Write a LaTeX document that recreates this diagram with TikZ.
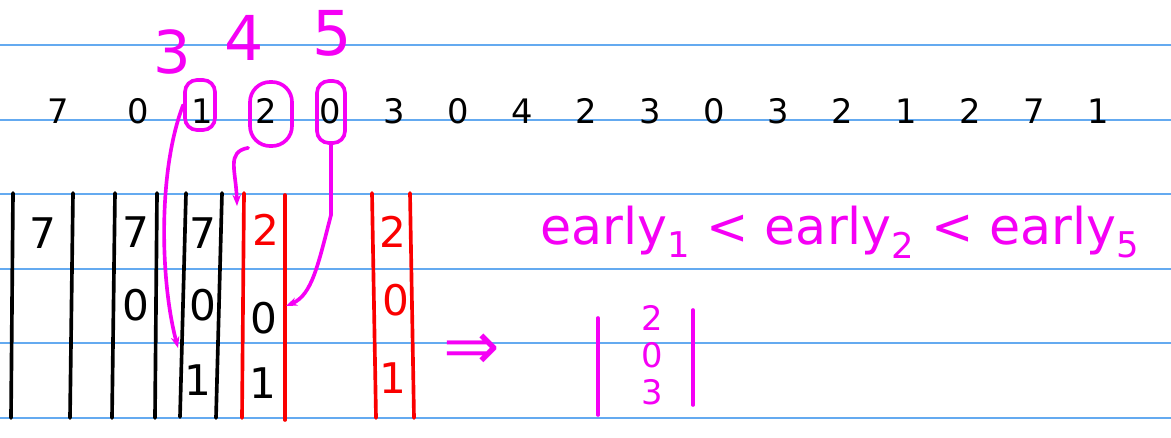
\documentclass[tikz,border=0pt]{standalone}
\usepackage{fontspec}
\setmainfont{DejaVu Sans}
\usetikzlibrary{arrows.meta,positioning,calc}
\definecolor{ruled}{RGB}{100,170,240}
\definecolor{pen}{RGB}{245,0,245}
\definecolor{redpen}{RGB}{250,0,0}
\tikzset{
  rule/.style={ruled,line width=1.2pt},
  frameline/.style={line width=2.6pt,line cap=round},
  seqnum/.style={font=\fontsize{24}{28}\selectfont,inner sep=0pt,anchor=base},
  hand/.style={font=\fontsize{30}{32}\selectfont,inner sep=0pt},
  penline/.style={pen,line width=2.6pt,line cap=round,line join=round},
  ring/.style={draw=pen,line width=2.6pt,rounded corners=0.3cm,inner sep=0pt},
  pentext/.style={pen,inner sep=0pt},
}
\begin{document}
\begin{tikzpicture}[x=0.025cm,y=-0.025cm]
  \useasboundingbox (0,0) rectangle (1171,437);

  % ruled paper
  \foreach \y in {45,120,194,269,343,418}
    \draw[rule] (0,\y) -- (1171,\y);

  % reference string
  \node[seqnum] (s1) at (58,123) {7};
  \foreach \v [count=\i from 2] in {0,1,2,0,3,0,4,2,3,0,3,2,1,2,7,1}
    \node[seqnum] (s\i) at ({138+64*(\i-2)},123) {\v};

  % frames
  \draw[frameline] (13,193) -- (11,418);
  \draw[frameline] (73,193) -- (70,418);
  \draw[frameline] (115,193) -- (112,418);
  \draw[frameline] (157,193) -- (155,418);
  \draw[frameline] (186,193) -- (180,417);
  \draw[frameline] (222,193) -- (216,418);
  \draw[frameline,redpen] (244,193) -- (242,418);
  \draw[frameline,redpen] (285,195) -- (285,420);
  \draw[frameline,redpen] (372,193) -- (376,418);
  \draw[frameline,redpen] (410,193) -- (414,418);

  \node[hand] (fa1) at (43,233) {7};
  \node[hand] (fb1) at (136,232) {7};
  \node[hand] (fb2) at (136,305) {0};
  \node[hand] (fc1) at (203,233) {7};
  \node[hand] (fc2) at (203,305) {0};
  \node[hand] (fc3) at (198,380) {1};
  \node[hand,redpen] (fd1) at (266,230) {2};
  \node[hand] (fd2) at (264,318) {0};
  \node[hand] (fd3) at (263,383) {1};
  \node[hand,redpen] (fe1) at (393,232) {2};
  \node[hand,redpen] (fe2) at (396,300) {0};
  \node[hand,redpen] (fe3) at (393,378) {1};

  % circled pages with their order
  \node[ring,minimum width=0.75cm,minimum height=1.25cm] (c3) at (200,105) {};
  \node[ring,rounded corners=0.5cm,minimum width=1.05cm,minimum height=1.6cm] (c4) at (271,114) {};
  \node[ring,minimum width=0.7cm,minimum height=1.55cm] (c5) at (331,112) {};
  \node[pentext,font=\fontsize{42}{44}\selectfont] (n3) at (172,52) {3};
  \node[pentext,font=\fontsize{44}{46}\selectfont] (n4) at (244,38) {4};
  \node[pentext,font=\fontsize{44}{46}\selectfont] (n5) at (332,33) {5};

  \coordinate (t3) at (178,348);
  \coordinate (t4) at (237,206);
  \coordinate (t5) at (286,306);
  \draw[penline,-{Stealth[length=8pt]}] (c3.west) .. controls (158,170) and (160,280) .. (t3);
  \draw[penline,-{Stealth[length=8pt]}] (c4.south west) .. controls (226,152) and (236,170) .. (t4);
  \draw[penline,-{Stealth[length=8pt]}] (c5.south) -- (331,215) .. controls (318,265) and (312,295) .. (t5);

  % conclusion
  \node[pentext,font=\fontsize{36}{38}\selectfont] (order) at (840,232)
    {early\textsubscript{1} < early\textsubscript{2} < early\textsubscript{5}};
  \node[pentext,font=\fontsize{48}{48}\selectfont] (imp) at (472,352) {⇒};
  \coordinate (la) at (598,318);
  \coordinate (lb) at (598,415);
  \coordinate (ra) at (693,310);
  \coordinate (rb) at (693,405);
  \draw[penline] (la) -- (lb);
  \draw[penline] (ra) -- (rb);
  \node[pentext,font=\fontsize{24}{26}\selectfont] (v1) at (652,318) {2};
  \node[pentext,font=\fontsize{24}{26}\selectfont] (v2) at (652,355) {0};
  \node[pentext,font=\fontsize{24}{26}\selectfont] (v3) at (652,392) {3};
\end{tikzpicture}
\end{document}
